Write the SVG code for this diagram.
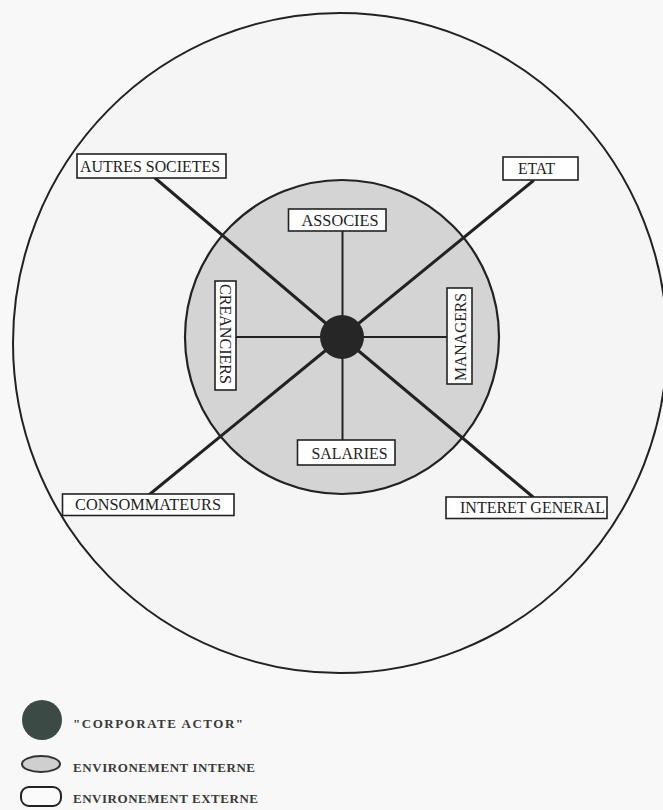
<svg xmlns="http://www.w3.org/2000/svg" width="663" height="810" viewBox="0 0 663 810">
  <style>
    .lbl { font-family: "Liberation Serif", "Times New Roman", serif; font-size: 16px; fill: #222; }
    .box { fill: #fff; stroke: #222; stroke-width: 1.6; }
    .spoke { stroke: #222; stroke-width: 3; stroke-linecap: round; }
    .thin { stroke: #222; stroke-width: 2; }
    .leg { font-family: "Liberation Serif", "Times New Roman", serif; font-size: 13px; font-weight: bold; fill: #3a3a3a; }
  </style>
  <rect x="0" y="0" width="663" height="810" fill="#f8f8f8"/>
  <g id="outer-environment">
    <ellipse cx="340" cy="343" rx="327" ry="330" fill="#f5f5f5" stroke="#222" stroke-width="2"/>
  </g>
  <g id="inner-environment">
    <circle cx="342" cy="337" r="157" fill="#d4d4d4" stroke="#222" stroke-width="2.2"/>
  </g>
  <g id="connectors">
    <line class="spoke" x1="342" y1="337" x2="155" y2="178"/>
    <line class="spoke" x1="342" y1="337" x2="533" y2="181"/>
    <line class="spoke" x1="342" y1="337" x2="150" y2="494"/>
    <line class="spoke" x1="342" y1="337" x2="533" y2="497"/>
    <line class="thin" x1="342.5" y1="231" x2="342.5" y2="440"/>
    <line class="thin" x1="236" y1="337" x2="447" y2="337" stroke-width="2.4"/>
  </g>
  <g id="corporate-actor">
    <circle cx="342" cy="337" r="22" fill="#262626"/>
  </g>
  <g id="autres-societes">
    <rect class="box" x="77" y="154" width="149" height="24"/>
    <text class="lbl" x="80" y="172" textLength="140" lengthAdjust="spacingAndGlyphs">AUTRES SOCIETES</text>
  </g>
  <g id="etat">
    <rect class="box" x="503" y="157" width="75" height="23"/>
    <text class="lbl" x="518" y="174" textLength="37" lengthAdjust="spacingAndGlyphs">ETAT</text>
  </g>
  <g id="associes">
    <rect class="box" x="288.5" y="209" width="97.5" height="22"/>
    <text class="lbl" x="301.5" y="225.5" textLength="77" lengthAdjust="spacingAndGlyphs">ASSOCIES</text>
  </g>
  <g id="creanciers">
    <rect class="box" x="215" y="281" width="21" height="109"/>
    <text class="lbl" transform="translate(220,284) rotate(90)" x="0" y="0" textLength="100" lengthAdjust="spacingAndGlyphs">CREANCIERS</text>
  </g>
  <g id="managers">
    <rect class="box" x="447" y="288" width="25" height="96"/>
    <text class="lbl" transform="translate(465.5,381) rotate(-90)" x="0" y="0" textLength="88" lengthAdjust="spacingAndGlyphs">MANAGERS</text>
  </g>
  <g id="salaries">
    <rect class="box" x="297.5" y="440" width="97.5" height="25"/>
    <text class="lbl" x="311.5" y="459" textLength="76" lengthAdjust="spacingAndGlyphs">SALARIES</text>
  </g>
  <g id="consommateurs">
    <rect class="box" x="62.5" y="494" width="171.5" height="21.5"/>
    <text class="lbl" x="75" y="510" textLength="146" lengthAdjust="spacingAndGlyphs">CONSOMMATEURS</text>
  </g>
  <g id="interet-general">
    <rect class="box" x="446" y="497" width="161" height="21.5"/>
    <text class="lbl" x="460" y="512.5" textLength="145" lengthAdjust="spacingAndGlyphs">INTERET GENERAL</text>
  </g>
  <g id="legend">
    <g id="legend-actor">
      <circle cx="42" cy="720" r="20" fill="#3c4a46"/>
      <text class="leg" x="73" y="728" textLength="170" lengthAdjust="spacing">"CORPORATE ACTOR"</text>
    </g>
    <g id="legend-interne">
      <ellipse cx="41" cy="764" rx="19" ry="8" fill="#cfcfcf" stroke="#333" stroke-width="2"/>
      <text class="leg" x="73" y="772" textLength="182" lengthAdjust="spacing">ENVIRONEMENT INTERNE</text>
    </g>
    <g id="legend-externe">
      <rect x="21" y="787" width="40" height="19" rx="8" ry="8" fill="#fbfbfb" stroke="#222" stroke-width="2"/>
      <text class="leg" x="73" y="803" textLength="185" lengthAdjust="spacing">ENVIRONEMENT EXTERNE</text>
    </g>
  </g>
</svg>
